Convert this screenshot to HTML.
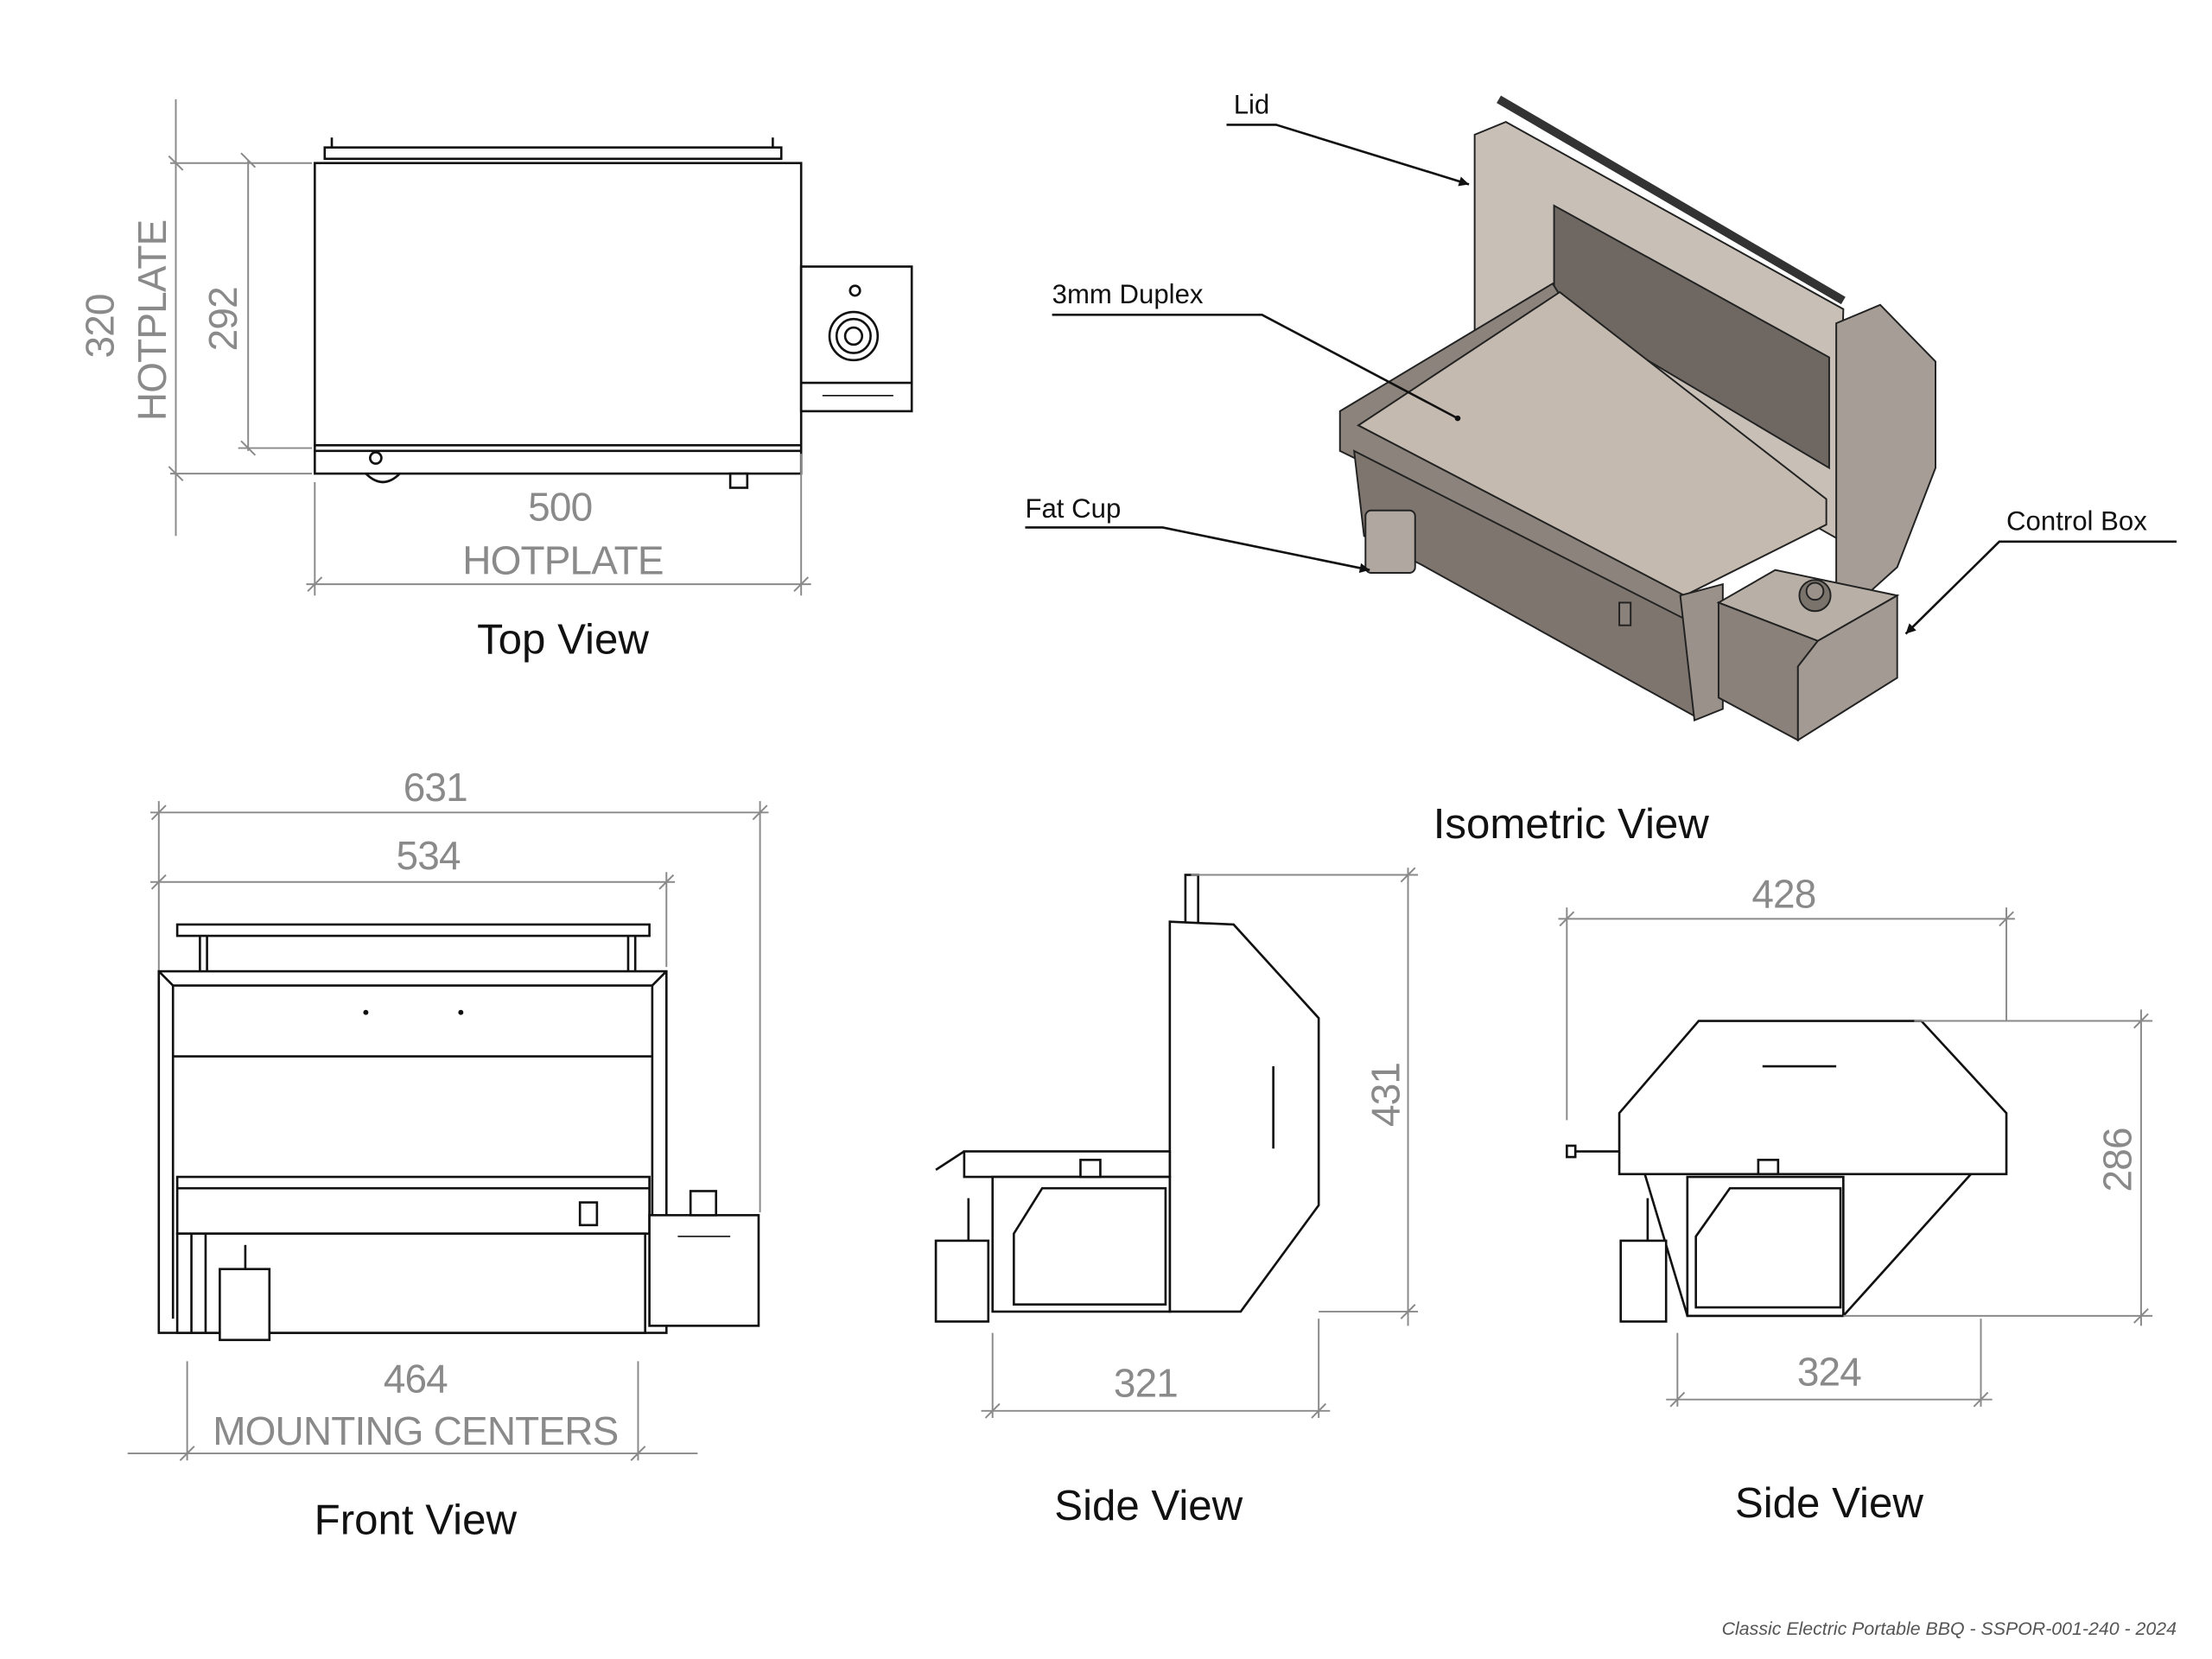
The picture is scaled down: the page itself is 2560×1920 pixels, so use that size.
<!DOCTYPE html>
<html><head><meta charset="utf-8"><style>
html,body{margin:0;padding:0;background:#fff;}
svg{display:block;}
.d{stroke:#8a8a8a;stroke-width:1.2;fill:none;}
.dt{fill:#8a8a8a;font-family:"Liberation Sans",sans-serif;font-size:28px;text-anchor:middle;letter-spacing:-0.5px;}
.k{stroke:#111;stroke-width:1.6;fill:none;}
.kf{stroke:#111;stroke-width:1.6;fill:#fff;}
.t{fill:#111;font-family:"Liberation Sans",sans-serif;font-size:30px;text-anchor:middle;}
.l{fill:#111;font-family:"Liberation Sans",sans-serif;font-size:19px;}
.i{stroke:#222;stroke-width:1.2;}
</style></head><body>
<svg width="2560" height="1920" viewBox="0 0 1560 1170" xmlns="http://www.w3.org/2000/svg">
<defs><marker id="ar" viewBox="0 0 10 10" refX="10" refY="5" markerWidth="9" markerHeight="7" orient="auto-start-reverse" markerUnits="userSpaceOnUse"><path d="M0,0 L10,5 L0,10 z" fill="#111"/></marker></defs>
<rect width="1560" height="1170" fill="#fff"/>

<!-- ===== TOP VIEW ===== -->
<g>
<line class="d" x1="124" y1="70" x2="124" y2="378"/>
<line class="d" x1="120" y1="115" x2="220" y2="115"/>
<line class="d" x1="120" y1="334" x2="220" y2="334"/>
<line class="d" x1="175" y1="113" x2="175" y2="318"/>
<line class="d" x1="168" y1="316" x2="220" y2="316"/>
<line class="d" x1="119" y1="110" x2="129" y2="120"/><line class="d" x1="119" y1="329" x2="129" y2="339"/>
<line class="d" x1="170" y1="108" x2="180" y2="118"/><line class="d" x1="170" y1="311" x2="180" y2="321"/>
<text class="dt" transform="translate(80,230) rotate(-90)">320</text>
<text class="dt" transform="translate(117,226) rotate(-90)">HOTPLATE</text>
<text class="dt" transform="translate(167,225) rotate(-90)">292</text>
<rect class="kf" x="229" y="104" width="322" height="8"/>
<line class="k" x1="234" y1="97" x2="234" y2="104"/><line class="k" x1="545" y1="97" x2="545" y2="104"/>
<rect class="kf" x="222" y="115" width="343" height="219"/>
<line class="k" x1="222" y1="314" x2="565" y2="314"/><line class="k" x1="222" y1="318" x2="565" y2="318"/>
<circle class="k" cx="265" cy="323" r="4"/>
<path class="k" d="M258,334 Q270,346 282,334"/>
<rect class="k" x="515" y="334" width="12" height="10"/>
<rect class="kf" x="565" y="188" width="78" height="102"/>
<line class="k" x1="565" y1="270" x2="643" y2="270"/>
<circle class="k" cx="602" cy="237" r="17"/><circle class="k" cx="602" cy="237" r="12"/><circle class="k" cx="602" cy="237" r="6"/>
<circle class="k" cx="603" cy="205" r="3.5"/>
<line class="k" x1="580" y1="279" x2="630" y2="279" style="stroke-width:1"/>
<line class="d" x1="222" y1="340" x2="222" y2="420"/>
<line class="d" x1="565" y1="320" x2="565" y2="420"/>
<line class="d" x1="216" y1="412" x2="572" y2="412"/>
<line class="d" x1="217" y1="417" x2="227" y2="407"/><line class="d" x1="560" y1="417" x2="570" y2="407"/>
<text class="dt" x="395" y="367">500</text>
<text class="dt" x="397" y="405">HOTPLATE</text>
<text class="t" x="397" y="461">Top View</text>
</g>

<!-- ===== ISOMETRIC ===== -->
<g>
<polygon class="i" fill="#c8c0b7" points="1040,95 1062,86 1300,218 1296,380 1040,235"/>
<polygon class="i" fill="#6f6862" points="1096,145 1290,252 1290,330 1096,215"/>
<line x1="1057" y1="70" x2="1300" y2="212" stroke="#333" stroke-width="6"/>
<polygon class="i" fill="#a69e96" points="1295,228 1326,215 1365,255 1365,330 1338,400 1318,418 1295,420"/>
<polygon class="i" fill="#8c847c" points="945,290 1095,200 1100,208 958,300 1190,420 1195,440 945,318"/>
<polygon class="i" fill="#c4bab0" points="958,300 1100,206 1288,352 1288,370 1188,420"/>
<polygon class="i" fill="#7d756e" points="955,318 1195,440 1195,505 1002,398 962,378"/>
<polygon class="i" fill="#9a928a" points="1185,420 1215,412 1215,500 1195,508"/>
<rect class="i" fill="#b0a8a0" x="963" y="360" width="35" height="44" rx="4"/>
<polygon class="i" fill="#b8b0a6" points="1212,425 1252,402 1338,420 1282,452"/>
<polygon class="i" fill="#8a827a" points="1212,425 1282,452 1268,470 1268,522 1212,492"/>
<polygon class="i" fill="#a39b93" points="1282,452 1338,420 1338,478 1268,522 1268,470"/>
<circle class="i" fill="#7a736c" cx="1280" cy="420" r="11"/><circle class="i" fill="#9a928a" cx="1280" cy="417" r="6"/>
<rect class="i" fill="#8a827a" x="1142" y="425" width="8" height="16"/>
<text class="l" x="870" y="80">Lid</text>
<polyline class="k" points="865,88 900,88 1036,130" marker-end="url(#ar)"/>
<text class="l" x="742" y="214">3mm Duplex</text>
<polyline class="k" points="742,222 890,222 1028,295"/>
<circle cx="1028" cy="295" r="2" fill="#111"/>
<text class="l" x="723" y="365">Fat Cup</text>
<polyline class="k" points="723,372 820,372 966,402" marker-end="url(#ar)"/>
<text class="l" x="1415" y="374">Control Box</text>
<polyline class="k" points="1535,382 1410,382 1344,447" marker-end="url(#ar)"/>
<text class="t" x="1108" y="591">Isometric View</text>
</g>

<!-- ===== FRONT VIEW ===== -->
<g>
<line class="d" x1="106" y1="573" x2="542" y2="573"/>
<line class="d" x1="112" y1="565" x2="112" y2="935"/>
<line class="d" x1="536" y1="565" x2="536" y2="855"/>
<line class="d" x1="107" y1="578" x2="117" y2="568"/><line class="d" x1="531" y1="578" x2="541" y2="568"/>
<text class="dt" x="307" y="565">631</text>
<line class="d" x1="106" y1="622" x2="476" y2="622"/>
<line class="d" x1="470" y1="615" x2="470" y2="682"/>
<line class="d" x1="107" y1="627" x2="117" y2="617"/><line class="d" x1="465" y1="627" x2="475" y2="617"/>
<text class="dt" x="302" y="613">534</text>
<rect class="kf" x="125" y="652" width="333" height="8"/>
<line class="k" x1="141" y1="660" x2="141" y2="686"/><line class="k" x1="146" y1="660" x2="146" y2="686"/>
<line class="k" x1="443" y1="660" x2="443" y2="686"/><line class="k" x1="448" y1="660" x2="448" y2="686"/>
<rect class="kf" x="112" y="685" width="358" height="255"/>
<line class="k" x1="122" y1="695" x2="460" y2="695"/>
<line class="k" x1="122" y1="695" x2="122" y2="930"/><line class="k" x1="460" y1="695" x2="460" y2="930"/>
<line class="k" x1="112" y1="685" x2="122" y2="695"/><line class="k" x1="470" y1="685" x2="460" y2="695"/>
<line class="k" x1="122" y1="745" x2="460" y2="745"/>
<circle cx="258" cy="714" r="1.8" fill="#111"/><circle cx="325" cy="714" r="1.8" fill="#111"/>
<rect class="kf" x="125" y="830" width="333" height="40"/>
<line class="k" x1="125" y1="838" x2="458" y2="838"/>
<rect class="kf" x="125" y="870" width="330" height="70"/>
<rect class="kf" x="409" y="848" width="12" height="16"/>
<line class="k" x1="135" y1="870" x2="135" y2="940"/><line class="k" x1="145" y1="870" x2="145" y2="940"/>
<rect class="kf" x="155" y="895" width="35" height="50"/>
<line class="k" x1="173" y1="878" x2="173" y2="895"/>
<rect class="kf" x="458" y="857" width="77" height="78"/>
<rect class="kf" x="487" y="840" width="18" height="17"/>
<line class="k" x1="478" y1="872" x2="515" y2="872" style="stroke-width:1"/>
<line class="d" x1="132" y1="960" x2="132" y2="1030"/>
<line class="d" x1="450" y1="960" x2="450" y2="1030"/>
<line class="d" x1="90" y1="1025" x2="492" y2="1025"/>
<line class="d" x1="127" y1="1030" x2="137" y2="1020"/><line class="d" x1="445" y1="1030" x2="455" y2="1020"/>
<text class="dt" x="293" y="982">464</text>
<text class="dt" x="293" y="1019">MOUNTING CENTERS</text>
<text class="t" x="293" y="1082">Front View</text>
</g>

<!-- ===== SIDE VIEW 1 ===== -->
<g>
<rect class="kf" x="836" y="617" width="9" height="35"/>
<polygon class="kf" points="825,650 870,652 930,718 930,850 875,925 825,925"/>
<line class="k" x1="898" y1="752" x2="898" y2="810"/>
<rect class="kf" x="680" y="812" width="145" height="18"/>
<rect class="kf" x="700" y="830" width="125" height="95"/>
<polygon class="k" points="735,838 822,838 822,920 715,920 715,870"/>
<rect class="kf" x="660" y="875" width="37" height="57"/>
<line class="k" x1="683" y1="845" x2="683" y2="875"/>
<rect class="kf" x="762" y="818" width="14" height="12"/>
<line class="k" x1="660" y1="825" x2="680" y2="812"/>
<line class="d" x1="993" y1="612" x2="993" y2="935"/>
<line class="d" x1="840" y1="617" x2="1000" y2="617"/>
<line class="d" x1="930" y1="925" x2="1000" y2="925"/>
<line class="d" x1="988" y1="622" x2="998" y2="612"/><line class="d" x1="988" y1="930" x2="998" y2="920"/>
<text class="dt" transform="translate(987,772) rotate(-90)">431</text>
<line class="d" x1="700" y1="940" x2="700" y2="1000"/>
<line class="d" x1="930" y1="930" x2="930" y2="1000"/>
<line class="d" x1="692" y1="995" x2="938" y2="995"/>
<line class="d" x1="695" y1="1000" x2="705" y2="990"/><line class="d" x1="925" y1="1000" x2="935" y2="990"/>
<text class="dt" x="808" y="985">321</text>
<text class="t" x="810" y="1072">Side View</text>
</g>

<!-- ===== SIDE VIEW 2 ===== -->
<g>
<polygon class="kf" points="1142,785 1198,720 1355,720 1415,785 1415,828 1142,828"/>
<line class="k" x1="1243" y1="752" x2="1295" y2="752"/>
<polygon class="kf" points="1160,828 1390,828 1300,928 1190,928"/>
<rect class="kf" x="1190" y="830" width="110" height="98"/>
<polygon class="k" points="1220,838 1298,838 1298,922 1196,922 1196,872"/>
<rect class="kf" x="1143" y="875" width="32" height="57"/>
<line class="k" x1="1162" y1="845" x2="1162" y2="875"/>
<rect class="kf" x="1240" y="818" width="14" height="10"/>
<line class="k" x1="1108" y1="812" x2="1142" y2="812"/><rect class="kf" x="1105" y="808" width="6" height="8"/>
<line class="d" x1="1105" y1="640" x2="1105" y2="790"/>
<line class="d" x1="1415" y1="640" x2="1415" y2="720"/>
<line class="d" x1="1099" y1="648" x2="1421" y2="648"/>
<line class="d" x1="1100" y1="653" x2="1110" y2="643"/><line class="d" x1="1410" y1="653" x2="1420" y2="643"/>
<text class="dt" x="1258" y="640">428</text>
<line class="d" x1="1510" y1="712" x2="1510" y2="935"/>
<line class="d" x1="1350" y1="720" x2="1518" y2="720"/>
<line class="d" x1="1300" y1="928" x2="1518" y2="928"/>
<line class="d" x1="1505" y1="725" x2="1515" y2="715"/><line class="d" x1="1505" y1="933" x2="1515" y2="923"/>
<text class="dt" transform="translate(1503,818) rotate(-90)">286</text>
<line class="d" x1="1183" y1="940" x2="1183" y2="992"/>
<line class="d" x1="1397" y1="930" x2="1397" y2="992"/>
<line class="d" x1="1175" y1="987" x2="1405" y2="987"/>
<line class="d" x1="1178" y1="992" x2="1188" y2="982"/><line class="d" x1="1392" y1="992" x2="1402" y2="982"/>
<text class="dt" x="1290" y="977">324</text>
<text class="t" x="1290" y="1070">Side View</text>
</g>

<text x="1535" y="1153" text-anchor="end" font-family="'Liberation Sans',sans-serif" font-size="13" font-style="italic" fill="#555">Classic Electric Portable BBQ - SSPOR-001-240 - 2024</text>
</svg>
</body></html>
